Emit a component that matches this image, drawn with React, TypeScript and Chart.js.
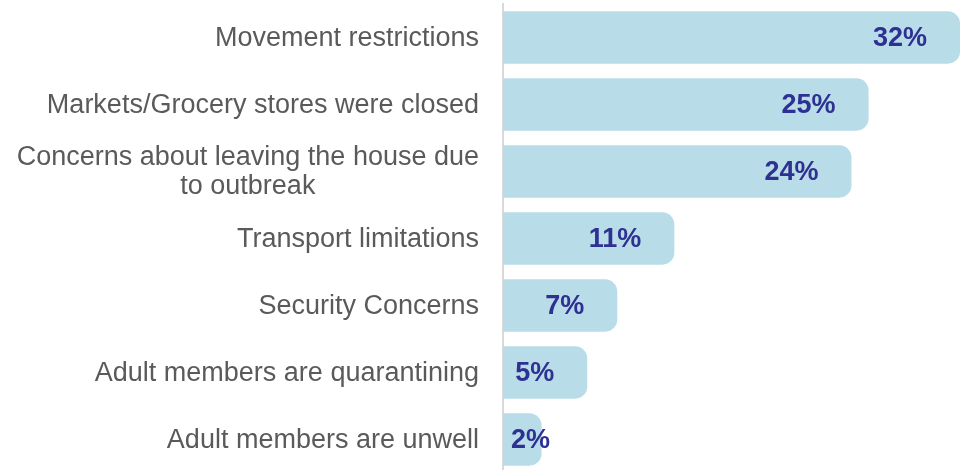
import React, { useEffect, useRef } from "react";
import { Chart, registerables } from "chart.js";

Chart.register(...registerables);

const categories: (string | string[])[] = [
  "Movement restrictions",
  "Markets/Grocery stores were closed",
  ["Concerns about leaving the house due", "to outbreak"],
  "Transport limitations",
  "Security Concerns",
  "Adult members are quarantining",
  "Adult members are unwell",
];
const values: number[] = [32, 25.6, 24.4, 12.0, 8.0, 5.9, 2.7];
const valueLabels: string[] = ["32%", "25%", "24%", "11%", "7%", "5%", "2%"];

const BAR_COLOR = "#b9dde8";
const LABEL_COLOR = "#2e3192";
const TEXT_COLOR = "#5a5a5a";
const FONT_FAMILY = "'Liberation Sans', Arial, sans-serif";

const valueLabelPlugin = {
  id: "valueLabels",
  afterDatasetsDraw(chart: any) {
    const ctx = chart.ctx;
    const meta = chart.getDatasetMeta(0);
    const base = chart.scales.x.getPixelForValue(0);
    ctx.save();
    ctx.font = `bold 27px ${FONT_FAMILY}`;
    ctx.fillStyle = LABEL_COLOR;
    ctx.textAlign = "right";
    ctx.textBaseline = "middle";
    meta.data.forEach((bar: any, i: number) => {
      const txt = valueLabels[i];
      const w = ctx.measureText(txt).width;
      const x = Math.max(bar.x - 33, base + 8 + w);
      ctx.fillText(txt, x, bar.y + 1);
    });
    ctx.restore();
  },
};

// Category labels: right-aligned blocks, multi-line blocks centred line by line
const categoryLabelPlugin = {
  id: "categoryLabels",
  afterDraw(chart: any) {
    const ctx = chart.ctx;
    const y = chart.scales.y;
    const right = y.right - 24;
    const lineH = 29;
    ctx.save();
    ctx.font = `27px ${FONT_FAMILY}`;
    ctx.fillStyle = TEXT_COLOR;
    ctx.textBaseline = "middle";
    categories.forEach((lab, i) => {
      const cy = y.getPixelForTick(i);
      const lines = Array.isArray(lab) ? lab : [lab];
      const widths = lines.map((l) => ctx.measureText(l).width);
      const maxW = Math.max(...widths);
      const center = right - maxW / 2;
      const top = cy - ((lines.length - 1) * lineH) / 2;
      lines.forEach((l, j) => {
        ctx.textAlign = lines.length > 1 ? "center" : "right";
        ctx.fillText(l, lines.length > 1 ? center : right, top + j * lineH + 1);
      });
    });
    ctx.restore();
  },
};

export default function App() {
  const ref = useRef<HTMLCanvasElement | null>(null);
  useEffect(() => {
    if (!ref.current) return;
    const chart = new Chart(ref.current, {
      type: "bar",
      data: {
        labels: categories,
        datasets: [
          {
            data: values,
            backgroundColor: BAR_COLOR,
            borderRadius: 12,
            borderSkipped: "start",
            categoryPercentage: 1,
            barPercentage: 0.78,
          },
        ],
      },
      options: {
        indexAxis: "y",
        animation: false,
        responsive: true,
        maintainAspectRatio: false,
        layout: { padding: { top: 4, right: 0, bottom: 0, left: 0 } },
        plugins: {
          legend: { display: false },
          tooltip: { enabled: false },
        },
        scales: {
          x: {
            display: false,
            min: 0,
            max: 32.42,
          },
          y: {
            grid: { display: false, drawTicks: false },
            border: { display: true, color: "#d9d9d9", width: 2 },
            ticks: { display: false },
            afterFit: (axis: any) => {
              axis.width = 503;
              axis.paddingTop = 0;
              axis.paddingBottom = 0;
            },
          },
        },
      },
      plugins: [valueLabelPlugin, categoryLabelPlugin],
    });
    return () => chart.destroy();
  }, []);
  return (
    <div style={{ position: "fixed", left: 0, top: 0, width: 966, height: 473, background: "#fff" }}>
      <canvas ref={ref} />
    </div>
  );
}
